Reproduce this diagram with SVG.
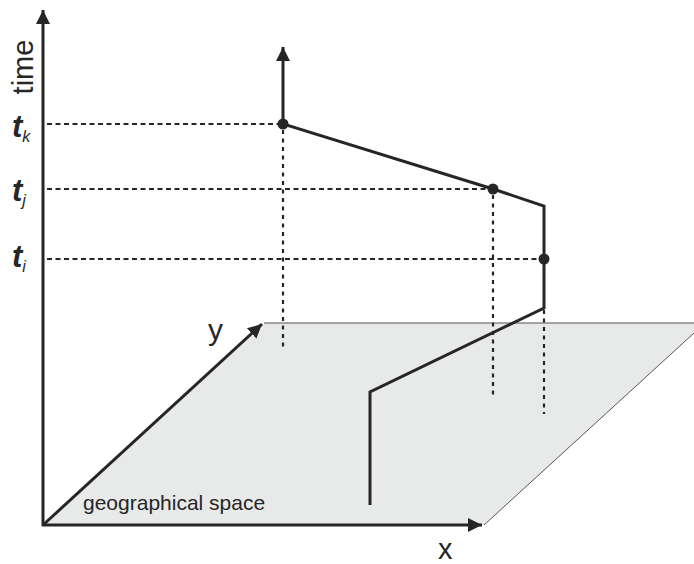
<svg xmlns="http://www.w3.org/2000/svg" width="694" height="564" viewBox="0 0 694 564">
<style>
.line{fill:none;stroke:#262626;stroke-width:3;stroke-linejoin:miter}
.hdash{fill:none;stroke:#262626;stroke-width:1.8;stroke-dasharray:5 3.5}
.vdot{fill:none;stroke:#262626;stroke-width:2.2;stroke-dasharray:4 4.5}
.lbl{font-family:"Liberation Sans",Arial,sans-serif;fill:#262626}
.t{font-family:"Liberation Sans",Arial,sans-serif;font-style:italic;font-weight:bold;fill:#262626}
.pt{fill:#262626}
</style>
<defs>
<marker id="ah" markerWidth="16" markerHeight="16" viewBox="0 0 16 16" refX="14" refY="8" orient="auto" markerUnits="userSpaceOnUse">
<path d="M0,1 L14,8 L0,15 Z" fill="#262626"/>
</marker>
</defs>
<rect width="694" height="564" fill="#ffffff"/>
<g id="plane">
<polygon points="43,525 484,525 705,323 264,323" fill="#e8e9e9" stroke="none"/>
<polyline points="264,323 705,323" fill="none" stroke="#555" stroke-width="1"/>
<polyline points="484,525 705,323" fill="none" stroke="#555" stroke-width="1"/>
<text class="lbl" x="83" y="510" font-size="21">geographical space</text>
</g>
<g id="axes">
<line class="line" x1="43" y1="526" x2="43" y2="10" marker-end="url(#ah)"/>
<line class="line" x1="42" y1="525" x2="482" y2="525" marker-end="url(#ah)"/>
<line class="line" x1="43" y1="525" x2="262" y2="324" marker-end="url(#ah)"/>
<text class="lbl" transform="translate(33,67) rotate(-90)" text-anchor="middle" font-size="29">time</text>
<text class="lbl" x="208" y="340" font-size="30">y</text>
<text class="lbl" x="438" y="559" font-size="29">x</text>
</g>
<g id="time-labels">
<text class="t" x="12" y="137" font-size="31">t<tspan font-size="16" font-weight="normal" dy="5">k</tspan></text>
<text class="t" x="12" y="201" font-size="31">t<tspan font-size="16" font-weight="normal" dy="5">j</tspan></text>
<text class="t" x="12" y="267" font-size="31">t<tspan font-size="16" font-weight="normal" dy="5">i</tspan></text>
</g>
<g id="projections">
<line class="hdash" x1="47" y1="124" x2="283" y2="124"/>
<line class="hdash" x1="47" y1="189" x2="493" y2="189"/>
<line class="hdash" x1="47" y1="259" x2="544" y2="259"/>
<line class="vdot" x1="283" y1="130" x2="283" y2="349"/>
<line class="vdot" x1="493" y1="195" x2="493" y2="398"/>
<line class="vdot" x1="544" y1="310" x2="544" y2="414"/>
</g>
<g id="trajectory">
<polyline class="line" points="370,505 370,392 544,308 544,206 493,189 283,124 283,47" marker-end="url(#ah)"/>
<circle class="pt" cx="283" cy="124" r="5.5"/>
<circle class="pt" cx="493" cy="189" r="5.5"/>
<circle class="pt" cx="544" cy="259" r="5.5"/>
</g>
</svg>
